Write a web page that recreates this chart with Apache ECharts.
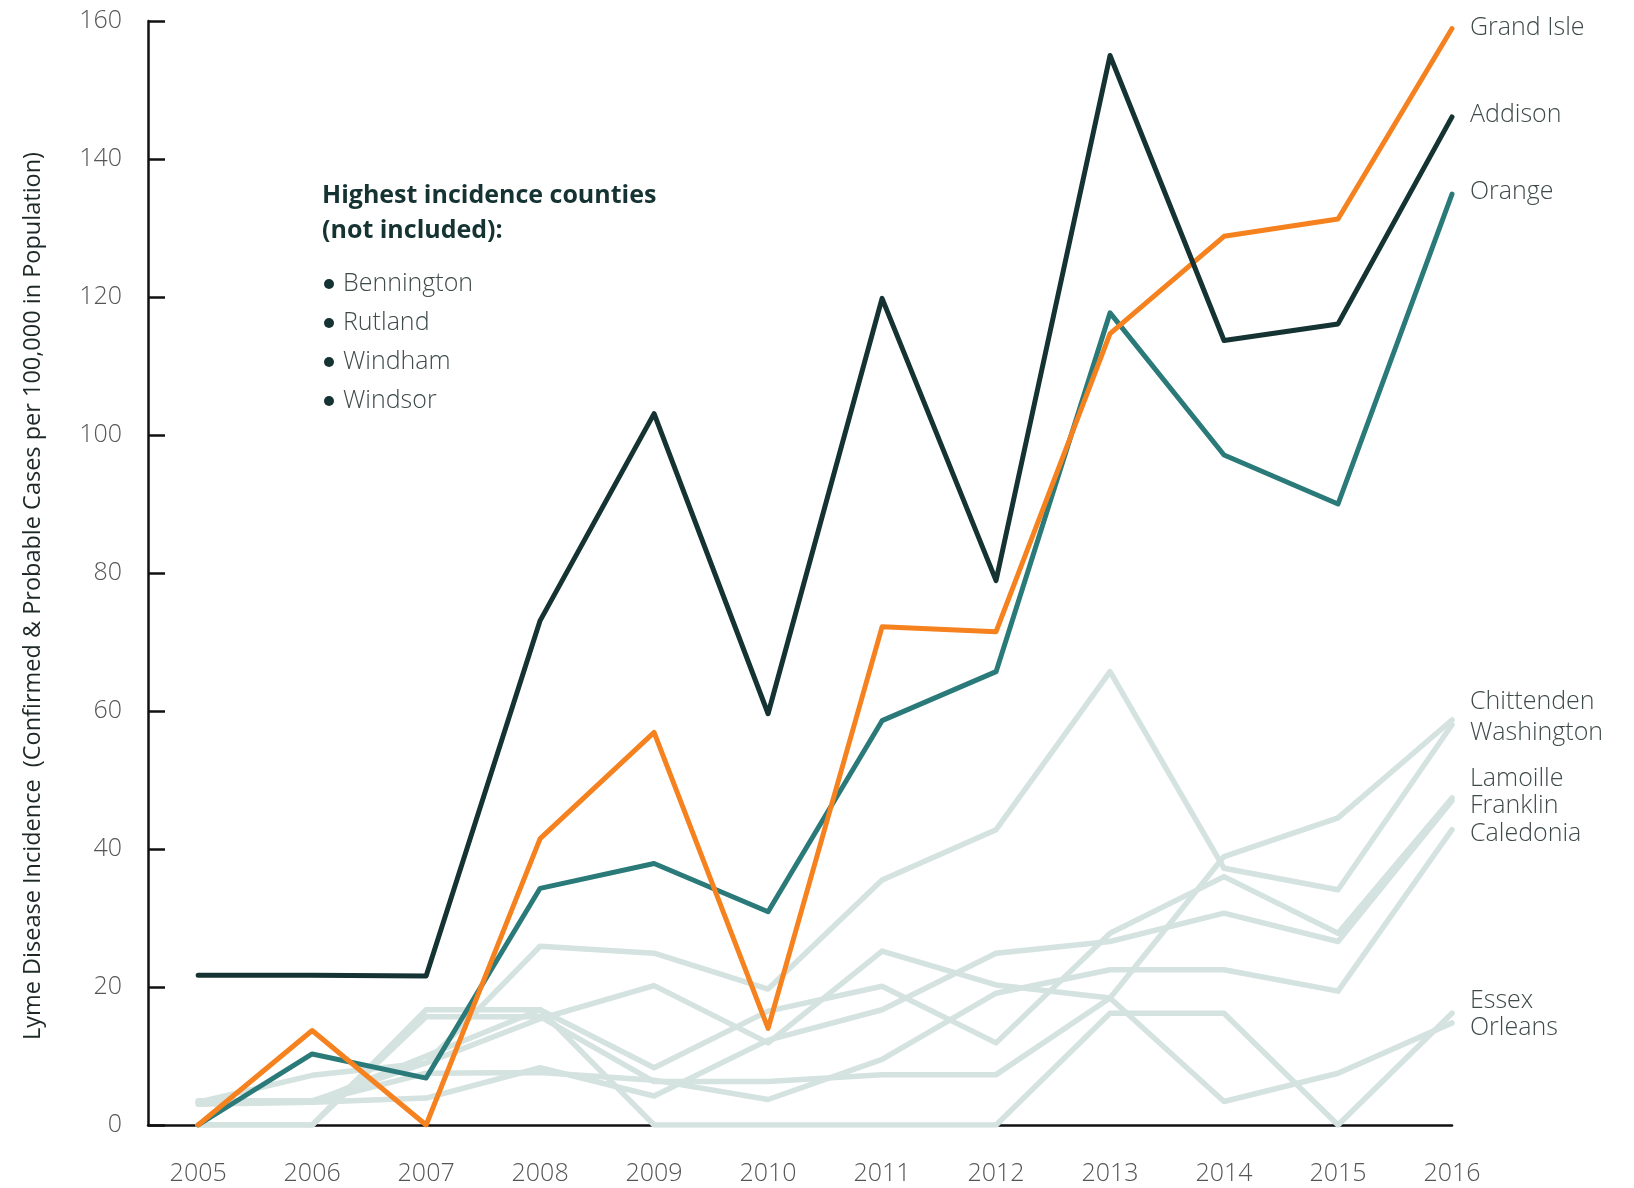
<!DOCTYPE html>
<html>
<head>
<meta charset="utf-8">
<title>Lyme disease incidence by county</title>
<script src="https://cdn.jsdelivr.net/npm/echarts@6/dist/echarts.min.js"></script>
<style>
  html, body { margin: 0; padding: 0; background: #fff; }
  #main { width: 1634px; height: 1188px; }
</style>
</head>
<body>
<div id="main"></div>
<script>
// years on the x axis
const years = [2005, 2006, 2007, 2008, 2009, 2010, 2011, 2012, 2013, 2014, 2015, 2016];

// highlighted counties
const addison   = [21.7, 21.7, 21.6, 73.1, 103.1, 59.6, 119.8, 78.9, 155.0, 113.7, 116.1, 146.1];
const grandIsle = [0, 13.7, 0, 41.5, 56.9, 14.0, 72.2, 71.5, 114.7, 128.8, 131.3, 158.9];
const orange    = [0, 10.3, 6.8, 34.3, 37.9, 30.9, 58.6, 65.7, 117.7, 97.1, 90.0, 134.9];

// other counties (grey)
const chittenden = [0, 0, 15.7, 15.7, 6.3, 6.3, 7.3, 7.3, 18.4, 38.9, 44.5, 58.7];
const washington = [3.3, 7.2, 9.0, 25.9, 24.9, 19.7, 35.5, 42.8, 65.7, 37.2, 34.1, 58.0];
const lamoille   = [3.3, 3.3, 10.0, 16.7, 8.3, 16.5, 20.1, 11.9, 27.8, 36.0, 27.8, 47.4];
const franklin   = [3.0, 3.3, 3.9, 8.3, 4.2, 12.3, 16.7, 24.9, 26.6, 30.7, 26.6, 47.0];
const caledonia  = [3.3, 3.3, 7.5, 7.6, 6.5, 3.7, 9.5, 19.1, 22.5, 22.5, 19.4, 42.8];
const essex      = [0, 0, 16.7, 16.7, 0, 0, 0, 0, 16.2, 16.2, 0, 16.2];
const orleans    = [3.5, 3.5, 9.0, 15.4, 20.2, 11.9, 25.2, 20.3, 18.4, 3.4, 7.5, 14.8];

const excluded = ['Bennington', 'Rutland', 'Windham', 'Windsor'];

const DARK = '#153332';
const ORANGE = '#F5821F';
const TEAL = '#2B7A7A';
const GREY = '#D4E2E0';
const FONT = '"Open Sans", "Noto Sans", sans-serif';

const pairs = (vals) => vals.map((v, i) => [years[i], v]);

const line = (name, vals, color, z, width) => ({
    name: name,
    type: 'line',
    data: pairs(vals),
    showSymbol: false,
    symbol: 'none',
    z: z,
    lineStyle: { color: color, width: width, cap: 'round', join: 'round' },
    emphasis: { disabled: true }
});

const greyNames = ['Chittenden', 'Washington', 'Lamoille', 'Franklin', 'Caledonia', 'Essex', 'Orleans'];
const greyVals = [chittenden, washington, lamoille, franklin, caledonia, essex, orleans];

const series = greyVals.map((v, i) => line(greyNames[i], v, GREY, 1, 5.5));
series.push(line('Orange', orange, TEAL, 2, 5));
series.push(line('Grand Isle', grandIsle, ORANGE, 3, 5));
series.push(line('Addison', addison, DARK, 4, 5));

// labels on the right
const labelText = (text, x, y) => ({
    type: 'text', x: x, y: y,
    style: { text: text, font: '300 25px ' + FONT, fill: '#3f4a4a', textVerticalAlign: 'middle' }
});
const rightLabels = [
    ['Grand Isle', 28], ['Addison', 115], ['Orange', 192],
    ['Chittenden', 702], ['Washington', 733],
    ['Lamoille', 779], ['Franklin', 806], ['Caledonia', 834],
    ['Essex', 1001], ['Orleans', 1028]
];

const graphics = rightLabels.map(l => labelText(l[0], 1470, l[1]));

// y axis title
graphics.push({
    type: 'text', x: 33, y: 596, rotation: Math.PI / 2,
    style: {
        text: 'Lyme Disease Incidence  (Confirmed & Probable Cases per 100,000 in Population)',
        font: '23.5px ' + FONT, fill: '#1e2828', textAlign: 'center', textVerticalAlign: 'middle'
    }
});

// note about excluded counties
graphics.push({
    type: 'text', x: 322, y: 196,
    style: { text: 'Highest incidence counties', font: 'bold 25px ' + FONT, fill: DARK, textVerticalAlign: 'middle' }
});
graphics.push({
    type: 'text', x: 322, y: 231,
    style: { text: '(not included):', font: 'bold 25px ' + FONT, fill: DARK, textVerticalAlign: 'middle' }
});
excluded.forEach((name, i) => {
    const y = 284 + i * 39;
    graphics.push({ type: 'circle', shape: { cx: 329, cy: y, r: 5 }, style: { fill: DARK } });
    graphics.push(labelText(name, 343, y));
});

const myChart = echarts.init(document.getElementById('main'));
const option = {
    animation: false,
    backgroundColor: '#fff',
    grid: { left: 148, right: 182, top: 21, bottom: 63, containLabel: false },
    xAxis: {
        type: 'value',
        min: 2004.56,
        max: 2016,
        axisLine: { show: true, onZero: false, lineStyle: { color: '#111', width: 2.5 } },
        axisTick: { show: false },
        splitLine: { show: false },
        axisLabel: {
            customValues: years,
            formatter: (v) => String(v),
            margin: 36,
            color: '#555',
            fontFamily: FONT,
            fontWeight: 300,
            fontSize: 25
        }
    },
    yAxis: {
        type: 'value',
        min: 0,
        max: 160,
        interval: 20,
        axisLine: { show: true, lineStyle: { color: '#111', width: 2.5 } },
        axisTick: { show: true, inside: true, length: 17, lineStyle: { color: '#111', width: 2.5 } },
        splitLine: { show: false },
        axisLabel: {
            margin: 26,
            color: '#555',
            fontFamily: FONT,
            fontWeight: 300,
            fontSize: 25
        }
    },
    series: series,
    graphic: graphics
};
myChart.setOption(option);
</script>
</body>
</html>
